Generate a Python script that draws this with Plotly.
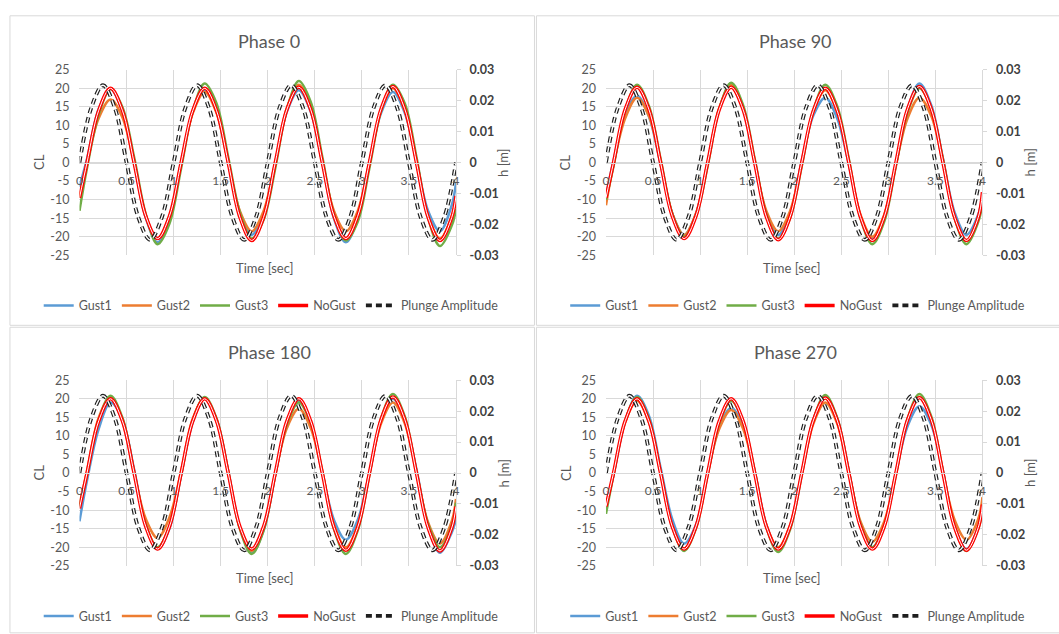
import plotly.graph_objects as go

W, H = 1059, 634

# ---------------- data ----------------
time_cl = [0.0, 0.08, 0.205, 0.33, 0.455, 0.58, 0.705, 0.83, 0.955,
           1.08, 1.205, 1.33, 1.455, 1.58, 1.705, 1.83, 1.955,
           2.08, 2.205, 2.33, 2.455, 2.58, 2.705, 2.83, 2.955,
           3.08, 3.205, 3.33, 3.455, 3.58, 3.705, 3.83, 3.955, 4.0]

time_h = [0.0, 0.125, 0.25, 0.375, 0.5, 0.625, 0.75, 0.875,
          1.0, 1.125, 1.25, 1.375, 1.5, 1.625, 1.75, 1.875,
          2.0, 2.125, 2.25, 2.375, 2.5, 2.625, 2.75, 2.875,
          3.0, 3.125, 3.25, 3.375, 3.5, 3.625, 3.75, 3.875, 4.0]
plunge_h = [0, 0.0177, 0.025, 0.0177, 0, -0.0177, -0.025, -0.0177,
            0, 0.0177, 0.025, 0.0177, 0, -0.0177, -0.025, -0.0177,
            0, 0.0177, 0.025, 0.0177, 0, -0.0177, -0.025, -0.0177,
            0, 0.0177, 0.025, 0.0177, 0, -0.0177, -0.025, -0.0177, 0]

# Phase 0
p0_gust1 = [-6.5, 1.0, 14.5, 19.8, 13.8, 0, -15.0, -21.5, -15.2, 0, 13.8, 19.5, 13.8, 0, -13.8, -19.5, -13.8,
            0, 13.8, 19.5, 13.8, 0, -15.2, -21.5, -15.2, 0, 13.4, 19.0, 13.4, 0.5, -13.1, -18.5, -11.5, -5.5]
p0_gust2 = [-9.5, 0, 12.0, 17.0, 12.2, 0, -14.5, -20.5, -14.5, 0, 13.4, 19.0, 13.4, 0, -13.1, -18.5, -13.1,
            0, 14.8, 21.0, 14.8, 0, -13.1, -18.5, -13.1, 0, 14.1, 20.0, 14.1, 0, -14.5, -20.5, -14.5, -9.5]
p0_gust3 = [-13.0, -1.5, 13.0, 19.8, 15.0, 1.5, -14.0, -22.0, -16.5, -1.5, 14.0, 21.3, 16.0, 1.5, -13.5, -20.5, -15.5,
            -1.5, 14.5, 22.0, 16.5, 1.5, -14.0, -21.0, -16.0, -1.5, 14.0, 21.0, 16.0, 1.5, -15.0, -22.5, -17.0, -12.5]
p0_nogust = [-9.5, 0, 14.1, 20.0, 14.1, 0, -14.5, -20.5, -14.5, 0, 14.1, 20.0, 14.1, 0, -14.8, -21.0, -14.8,
             0, 14.4, 20.3, 14.4, 0, -14.5, -20.5, -14.5, 0, 14.5, 20.5, 14.5, 0, -14.8, -21.0, -14.8, -9.0]

# Phase 90
p90_gust1 = [-9.0, 0.5, 13.0, 18.0, 12.5, -0.5, -13.8, -19.5, -13.8, 0, 14.5, 20.5, 14.5, 0, -13.8, -19.5, -13.8,
             0.5, 12.8, 17.5, 12.0, -0.5, -14.5, -20.5, -14.5, -0.5, 14.5, 21.3, 15.5, 1.0, -13.5, -19.5, -14.0, -9.0]
p90_gust2 = [-11.5, -0.5, 12.0, 17.5, 12.6, 0, -13.8, -19.5, -13.8, 0, 14.8, 21.0, 14.8, 0, -13.1, -18.5, -13.1,
             0, 13.8, 19.5, 13.8, 0, -14.1, -20.0, -14.1, -0.5, 12.0, 17.5, 12.6, 0, -14.8, -21.0, -14.8, -10.0]
p90_gust3 = [-10.0, -1.0, 14.2, 21.0, 15.3, 1.0, -13.8, -20.0, -14.5, -1.0, 14.6, 21.5, 15.6, 1.0, -14.0, -20.5, -15.0,
             -1.0, 14.3, 21.0, 15.3, 1.0, -15.1, -22.0, -16.0, -1.0, 13.6, 20.0, 14.6, 1.0, -15.1, -22.0, -16.0, -11.0]
p90_nogust = [-9.5, 0, 14.4, 20.3, 14.4, 0, -14.5, -20.5, -14.5, 0, 14.4, 20.3, 14.4, 0, -14.7, -20.8, -14.7,
              0, 14.1, 20.0, 14.1, 0, -14.8, -21.0, -14.8, 0, 14.5, 20.5, 14.5, 0, -14.8, -21.0, -14.8, -8.0]

# Phase 180
p180_gust1 = [-13.0, -2.0, 12.0, 19.0, 14.5, 1.0, -14.0, -20.5, -15.0, -0.5, 13.8, 20.0, 14.5, 0.5, -14.8, -21.5, -15.5,
              -0.5, 13.5, 19.5, 14.0, 0, -12.7, -18.0, -12.7, 0, 14.1, 20.0, 14.1, 1.0, -14.5, -21.5, -16.0, -12.5]
p180_gust2 = [-8.5, 0.5, 15.0, 20.5, 14.0, 0, -12.4, -17.5, -12.0, 0.5, 14.8, 20.2, 14.0, 0, -14.8, -21.0, -14.8,
              0, 12.2, 17.3, 12.2, 0, -14.1, -20.0, -14.1, 0, 13.4, 19.0, 13.4, 0, -13.4, -19.0, -13.0, -7.0]
p180_gust3 = [-9.0, -0.5, 14.4, 20.8, 15.0, 0.5, -14.0, -20.0, -14.5, -0.5, 14.2, 20.5, 14.8, 0.5, -15.2, -21.8, -15.6,
              -0.5, 13.2, 19.0, 13.6, 0.5, -15.2, -21.8, -15.6, -0.5, 14.8, 21.3, 15.3, 0.5, -13.8, -20.0, -14.2, -8.0]
p180_nogust = [-9.5, 0, 14.1, 20.0, 14.1, 0, -14.5, -20.5, -14.5, 0, 14.1, 20.0, 14.1, 0, -14.5, -20.5, -14.5,
               0, 14.1, 20.0, 14.1, 0, -14.7, -20.8, -14.7, 0, 14.5, 20.5, 14.5, 0, -14.8, -21.0, -14.8, -9.0]

# Phase 270
p270_gust1 = [-9.0, -0.5, 14.0, 20.8, 15.5, 1.5, -12.5, -19.0, -14.0, 0, 12.4, 17.5, 12.8, 0.5, -14.0, -20.5, -14.8,
              0, 14.5, 20.5, 14.8, 0.5, -13.8, -20.0, -14.4, 0, 12.7, 18.0, 13.0, 0.5, -14.5, -20.5, -14.5, -9.0]
p270_gust2 = [-9.5, 0, 13.8, 19.5, 13.8, 0, -14.5, -20.5, -14.5, 0, 12.0, 17.0, 12.0, 0, -14.1, -20.0, -14.1,
              0, 13.4, 19.0, 13.4, 0, -13.1, -18.5, -13.1, 0, 14.5, 20.5, 14.5, 0, -12.7, -18.0, -12.4, -6.5]
p270_gust3 = [-11.0, -0.5, 14.2, 20.5, 14.7, 0.5, -14.6, -21.0, -15.0, -0.5, 13.5, 19.5, 14.0, 0.5, -14.8, -21.3, -15.3,
              -0.5, 14.5, 21.0, 15.0, 0.5, -13.8, -20.0, -14.4, -0.5, 14.7, 21.3, 15.3, 0.5, -14.6, -21.0, -15.0, -10.0]
p270_nogust = [-9.0, 0, 14.1, 20.0, 14.1, 0, -14.5, -20.5, -14.5, 0, 14.1, 20.0, 14.1, 0, -14.5, -20.5, -14.5,
               0, 14.3, 20.2, 14.3, 0, -14.5, -20.5, -14.5, 0, 14.4, 20.3, 14.4, 0, -14.7, -20.8, -14.7, -8.5]

panel_titles = ["Phase 0", "Phase 90", "Phase 180", "Phase 270"]
series_names = ["Gust1", "Gust2", "Gust3", "NoGust", "Plunge Amplitude"]

x_tickvals = [0, 0.5, 1, 1.5, 2, 2.5, 3, 3.5, 4]
x_ticktext = ["0", "0.5", "1", "1.5", "2", "2.5", "3", "3.5", "4"]
cl_tickvals = [-25, -20, -15, -10, -5, 0, 5, 10, 15, 20, 25]
cl_ticktext = ["-25", "-20", "-15", "-10", "-5", "0", "5", "10", "15", "20", "25"]
h_tickvals = [-0.03, -0.02, -0.01, 0, 0.01, 0.02, 0.03]
h_ticktext = ["-0.03", "-0.02", "-0.01", "0", "0.01", "0.02", "0.03"]

panel_data = [
    (p0_gust1, p0_gust2, p0_gust3, p0_nogust),
    (p90_gust1, p90_gust2, p90_gust3, p90_nogust),
    (p180_gust1, p180_gust2, p180_gust3, p180_nogust),
    (p270_gust1, p270_gust2, p270_gust3, p270_nogust),
]

# ---------------- styles / layout ----------------
FONT = "Lato"
GRID = "#d9d9d9"
TXT = "#595959"
colors = ["#5B9BD5", "#ED7D31", "#70AD47", "#FF0000"]

def px(x):
    return x / W

def py(y):
    return 1 - y / H

offs = [(0, 0), (530, 0), (0, 318), (530, 318)]
PL, PR, PT, PB = 77, 456, 63.3, 253.3

fig = go.Figure()
layout = dict(
    width=W, height=H,
    margin=dict(l=0, r=0, t=0, b=0),
    paper_bgcolor="white", plot_bgcolor="white",
    font=dict(family=FONT, size=12, color=TXT),
    showlegend=True,
)
annotations = []
shapes = []

for i, (ox, oy) in enumerate(offs):
    n = i + 1
    xname = "x" if n == 1 else f"x{n}"
    y1 = 2 * n - 1
    y2 = 2 * n
    y1name = "y" if y1 == 1 else f"y{y1}"
    y2name = f"y{y2}"
    lgname = "legend" if n == 1 else f"legend{n}"

    g1, g2, g3, ng = panel_data[i]
    for k, ser in enumerate([g1, g2, g3]):
        fig.add_trace(go.Scatter(
            x=time_cl, y=ser, name=series_names[k], mode="lines",
            line=dict(color=colors[k], width=2.5, shape="spline"),
            xaxis=xname, yaxis=y1name, legend=lgname))
    fig.add_trace(go.Scatter(
        x=time_cl, y=ng, name=series_names[3], mode="lines",
        line=dict(color=colors[3], width=3.5, shape="spline"),
        xaxis=xname, yaxis=y1name, legend=lgname))
    fig.add_trace(go.Scatter(
        x=time_cl, y=ng, name=series_names[3], mode="lines", showlegend=False,
        line=dict(color="white", width=1.0, shape="spline"),
        xaxis=xname, yaxis=y1name, hoverinfo="skip"))
    fig.add_trace(go.Scatter(
        x=time_h, y=plunge_h, name=series_names[4], mode="lines",
        line=dict(color="#1f1f1f", width=3.8, dash="6px,4px", shape="spline"),
        xaxis=xname, yaxis=y2name, legend=lgname))
    fig.add_trace(go.Scatter(
        x=time_h, y=plunge_h, name=series_names[4], mode="lines", showlegend=False,
        line=dict(color="white", width=1.4, dash="6px,4px", shape="spline"),
        xaxis=xname, yaxis=y2name, hoverinfo="skip"))

    xl, xr = PL + ox, PR + ox
    yt, yb = PT + oy, PB + oy
    xdom = [px(xl), px(xr)]
    ydom = [py(yb), py(yt)]
    zero_pos = py((yt + yb) / 2)

    layout["xaxis" if n == 1 else f"xaxis{n}"] = dict(
        domain=xdom, anchor="free", position=zero_pos, range=[0, 4],
        tickvals=x_tickvals, ticktext=x_ticktext,
        showgrid=True, gridcolor=GRID, gridwidth=1,
        showline=True, linecolor=GRID, linewidth=1,
        zeroline=False, ticks="", ticklabelstandoff=7,
        tickfont=dict(family=FONT, size=12, color=TXT), fixedrange=True)
    layout["yaxis" if y1 == 1 else f"yaxis{y1}"] = dict(
        domain=ydom, anchor=xname, range=[-25, 25],
        tickvals=cl_tickvals, ticktext=cl_ticktext,
        showgrid=True, gridcolor=GRID, gridwidth=1,
        zeroline=True, zerolinecolor=GRID, zerolinewidth=1,
        showline=False, ticks="", ticklabelstandoff=9,
        tickfont=dict(family=FONT, size=12.5, color=TXT))
    layout[f"yaxis{y2}"] = dict(
        domain=ydom, anchor=xname, overlaying=y1name, side="right",
        range=[-0.03, 0.03], tickvals=h_tickvals, ticktext=h_ticktext,
        showgrid=False, zeroline=False,
        showline=True, linecolor=GRID, linewidth=1,
        ticks="outside", ticklen=4, tickcolor=GRID, ticklabelstandoff=6,
        tickfont=dict(family=FONT, size=12.5, color="#404040", weight="bold"))
    layout[lgname] = dict(
        orientation="h", x=px(270 + ox), xanchor="center",
        y=py(305 + oy), yanchor="middle",
        font=dict(family=FONT, size=12.5, color=TXT),
        bgcolor="rgba(0,0,0,0)", itemwidth=30, tracegroupgap=0)

    common = dict(xref="paper", yref="paper", showarrow=False, xanchor="center", yanchor="middle")
    annotations += [
        dict(text=panel_titles[i], x=px(268 + ox), y=py(34 + oy),
             font=dict(family=FONT, size=18, color=TXT), **common),
        dict(text="Time [sec]", x=px(264 + ox), y=py(266 + oy),
             font=dict(family=FONT, size=13, color=TXT), **common),
        dict(text="CL", x=px(36 + ox), y=py(158 + oy), textangle=-90,
             font=dict(family=FONT, size=13, color=TXT), **common),
        dict(text="h [m]", x=px(504 + ox), y=py(158 + oy), textangle=-90,
             font=dict(family=FONT, size=13, color=TXT), **common),
    ]

# panel borders
for (x0, y0, x1, y1b) in [(7, 8, 535, 325), (537, 8, 1065, 325), (7, 327, 535, 640), (537, 327, 1065, 640)]:
    shapes.append(dict(type="rect", xref="paper", yref="paper",
                       x0=px(x0), x1=px(x1), y0=py(y1b), y1=py(y0),
                       line=dict(color=GRID, width=1), fillcolor="rgba(0,0,0,0)", layer="below"))

layout["annotations"] = annotations
layout["shapes"] = shapes
fig.update_layout(**layout)
fig.write_html("out.html", config={"displayModeBar": False},
               post_script="document.body.style.margin='0';document.body.style.overflow='hidden';")
